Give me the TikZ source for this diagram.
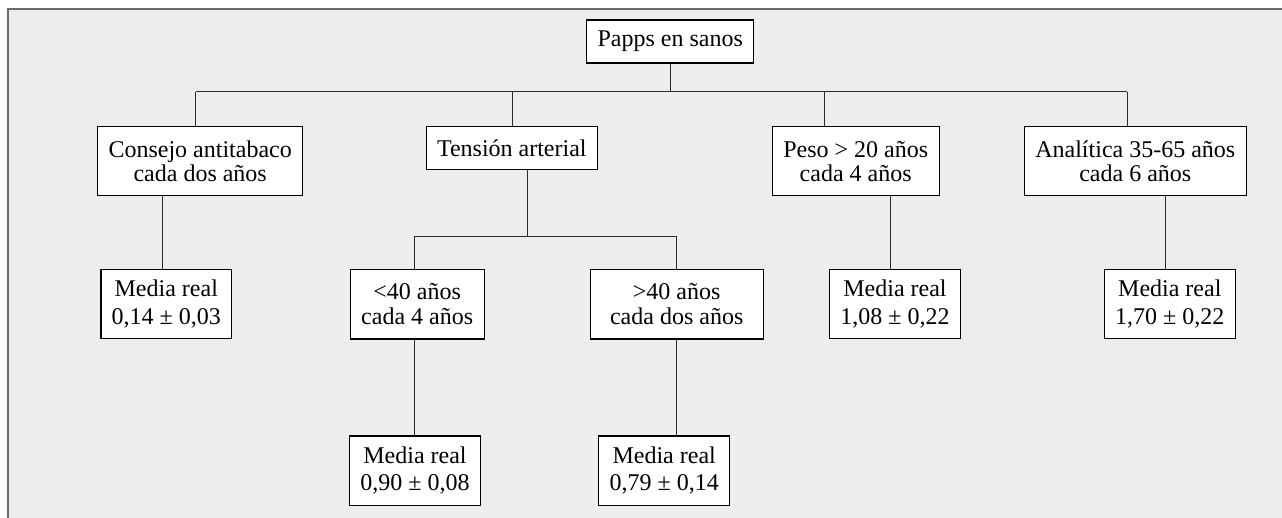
\documentclass[tikz,border=0pt]{standalone}
\usepackage{fontspec}
\setmainfont{Liberation Serif}
\definecolor{bggray}{HTML}{EDEDED}
\definecolor{framegray}{HTML}{6A6A6A}
\definecolor{linegray}{HTML}{2A2A2A}
\begin{document}
\begin{tikzpicture}[x=1pt,y=-1pt,
  box/.style={draw=black, fill=white, line width=1.1pt, inner sep=0pt, align=center,
    font=\fontsize{24}{24.5}\selectfont},
  mbox/.style={box, font=\fontsize{24}{27.5}\selectfont,
    minimum width=131pt, minimum height=69.4pt},
  tall/.style={minimum height=69.3pt},
  conn/.style={draw=linegray, line width=1pt},
  frameline/.style={draw=framegray, line width=2pt}]
\useasboundingbox (0,0) rectangle (1282,518);
\fill[white] (0,0) rectangle (1282,518);
\fill[bggray] (8,9) rectangle (1282,518);
\draw[frameline] (8,518) -- (8,9) -- (1282,9);

% nodes
\node[box, minimum width=167pt, minimum height=43pt] (papps) at (670.2,41.5) {Papps en sanos};
\node[box, tall, minimum width=205pt] (consejo) at (200.2,161.3) {Consejo antitabaco\\cada dos años};
\node[box, minimum width=171pt, minimum height=42.6pt] (tension) at (511.8,148) {Tensión arterial};
\node[box, tall, minimum width=166.7pt] (peso) at (855.7,161.3) {Peso {\fontspec{Liberation Serif}>} 20 años\\cada 4 años};
\node[box, tall, minimum width=222pt] (analitica) at (1135.3,161.3) {Analítica 35-65 años\\cada 6 años};

\node[mbox, minimum width=130.7pt] (m1) at (166.3,304) {Media real\\0,14 ± 0,03};
\node[box, minimum width=133.7pt, minimum height=69.7pt] (lt40) at (417.2,304.2) {<40 años\\cada 4 años};
\node[box, minimum width=172.8pt, minimum height=69.7pt] (gt40) at (676.7,304.2) {>40 años\\cada dos años};
\node[mbox, minimum width=131.4pt] (m3) at (895,304) {Media real\\1,08 ± 0,22};
\node[mbox] (m4) at (1169.8,304) {Media real\\1,70 ± 0,22};
\node[mbox, minimum width=131.4pt] (m5) at (415,470.7) {Media real\\0,90 ± 0,08};
\node[mbox] (m6) at (664.2,470.7) {Media real\\0,79 ± 0,14};

% bus coordinates
\coordinate (busL) at (195.7,92);
\coordinate (busR) at (1127,92);
\coordinate (bT) at (512,92);
\coordinate (bP) at (824.3,92);
\coordinate (tbus) at (527.3,236.3);
\coordinate (tbL) at (414.7,236.3);
\coordinate (tbR) at (676.7,236.3);
\coordinate (cx) at (162.7,0);
\coordinate (px) at (890.3,0);
\coordinate (ax) at (1165.7,0);

% connectors
\draw[conn] (papps.south) -- (papps.south |- busL);
\draw[conn] (busL) -- (busR);
\draw[conn] (busL) -- (busL |- consejo.north);
\draw[conn] (bT) -- (bT |- tension.north);
\draw[conn] (bP) -- (bP |- peso.north);
\draw[conn] (busR) -- (busR |- analitica.north);

\draw[conn] (cx |- consejo.south) -- (cx |- m1.north);
\draw[conn] (tbus |- tension.south) -- (tbus);
\draw[conn] (tbL) -- (tbR);
\draw[conn] (tbL) -- (tbL |- lt40.north);
\draw[conn] (tbR) -- (tbR |- gt40.north);
\draw[conn] (tbL |- lt40.south) -- (tbL |- m5.north);
\draw[conn] (tbR |- gt40.south) -- (tbR |- m6.north);
\draw[conn] (px |- peso.south) -- (px |- m3.north);
\draw[conn] (ax |- analitica.south) -- (ax |- m4.north);
\end{tikzpicture}
\end{document}
